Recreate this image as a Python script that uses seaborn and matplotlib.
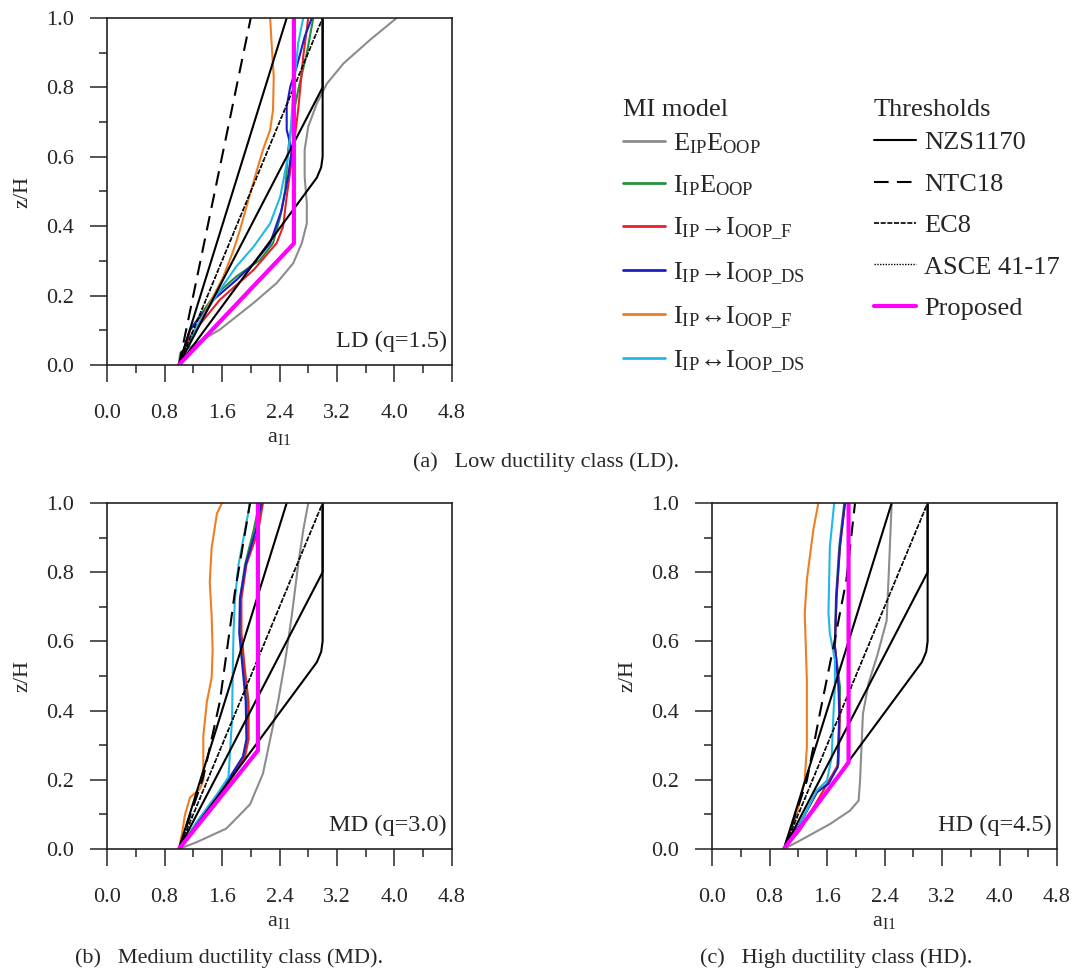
import matplotlib
matplotlib.use("Agg")
import matplotlib.pyplot as plt
from matplotlib.lines import Line2D
import seaborn as sns
import numpy as np

# ---- LD (q=1.5) ----
ld_grey_a = [1.0, 1.016, 1.57, 2.04, 2.36, 2.59, 2.71, 2.78, 2.78, 2.75, 2.75, 2.80, 2.92, 3.06, 3.29, 3.66, 4.03]
ld_grey_z = [0, 0.034, 0.102, 0.179, 0.236, 0.293, 0.351, 0.408, 0.466, 0.543, 0.620, 0.687, 0.754, 0.811, 0.869, 0.937, 1.0]
ld_green_a = [1.0, 1.155, 1.48, 1.80, 2.13, 2.31, 2.41, 2.48, 2.52, 2.57, 2.66, 2.78, 2.87]
ld_green_z = [0, 0.101, 0.197, 0.255, 0.303, 0.351, 0.428, 0.504, 0.620, 0.696, 0.793, 0.898, 1.0]
ld_red_a = [1.0, 1.155, 1.57, 2.04, 2.36, 2.45, 2.50, 2.59, 2.66, 2.73, 2.80]
ld_red_z = [0, 0.082, 0.188, 0.274, 0.351, 0.399, 0.485, 0.620, 0.735, 0.889, 1.0]
ld_blue_a = [1.0, 1.155, 1.48, 1.80, 2.04, 2.27, 2.43, 2.52, 2.57, 2.50, 2.50, 2.55, 2.64, 2.75, 2.85]
ld_blue_z = [0, 0.101, 0.188, 0.245, 0.293, 0.351, 0.447, 0.543, 0.620, 0.678, 0.745, 0.802, 0.860, 0.946, 1.0]
ld_orange_a = [1.0, 1.20, 1.43, 1.62, 1.76, 1.85, 1.94, 2.06, 2.17, 2.27, 2.31, 2.32, 2.29, 2.27]
ld_orange_z = [0, 0.091, 0.178, 0.255, 0.331, 0.389, 0.456, 0.543, 0.620, 0.678, 0.735, 0.831, 0.927, 1.0]
ld_cyan_a = [1.0, 1.25, 1.57, 1.80, 2.04, 2.27, 2.41, 2.50, 2.55, 2.59, 2.66, 2.73]
ld_cyan_z = [0, 0.111, 0.216, 0.284, 0.341, 0.408, 0.485, 0.581, 0.658, 0.783, 0.927, 1.0]
ld_prop_a = [1.0, 2.6, 2.6]
ld_prop_z = [0, 0.35, 1.0]
ld_ntc_a = [1.0, 2.0]
ld_ntc_z = [0, 1.0]

# ---- MD (q=3.0) ----
md_grey_a = [1.0, 1.25, 1.66, 1.99, 2.17, 2.27, 2.38, 2.48, 2.57, 2.66, 2.73, 2.80]
md_grey_z = [0, 0.02, 0.059, 0.129, 0.218, 0.317, 0.426, 0.545, 0.673, 0.822, 0.921, 1.0]
md_mid_z = [0, 0.089, 0.198, 0.267, 0.317, 0.426, 0.515, 0.624, 0.723, 0.822, 0.921, 1.0]
md_red_a = [1.0, 1.34, 1.71, 1.92, 1.97, 1.97, 1.92, 1.87, 1.87, 1.94, 2.105, 2.17]
md_green_a = [1.0, 1.34, 1.69, 1.90, 1.95, 1.95, 1.91, 1.85, 1.85, 1.92, 2.04, 2.12]
md_blue_a = [1.0, 1.33, 1.68, 1.89, 1.94, 1.93, 1.89, 1.84, 1.85, 1.93, 2.07, 2.15]
md_cyan_a = [1.0, 1.25, 1.53, 1.69, 1.74, 1.75, 1.76, 1.78, 1.83, 1.92, 1.99]
md_cyan_z = [0, 0.079, 0.158, 0.208, 0.376, 0.515, 0.624, 0.723, 0.822, 0.921, 1.0]
md_orange_a = [1.0, 1.04, 1.085, 1.155, 1.29, 1.34, 1.34, 1.39, 1.456, 1.47, 1.456, 1.43, 1.456, 1.53, 1.60]
md_orange_z = [0, 0.040, 0.099, 0.149, 0.173, 0.198, 0.327, 0.426, 0.495, 0.574, 0.673, 0.772, 0.871, 0.970, 1.0]
md_prop_a = [1.0, 2.1, 2.1]
md_prop_z = [0, 0.285, 1.0]
md_ntc_a = [1.0, 1.34, 1.57, 1.78, 1.99]
md_ntc_z = [0, 0.208, 0.426, 0.743, 1.0]

# ---- HD (q=4.5) ----
hd_grey_a = [1.0, 1.22, 1.64, 1.92, 2.04, 2.06, 2.08, 2.10, 2.18, 2.30, 2.43, 2.46, 2.50]
hd_grey_z = [0, 0.024, 0.072, 0.111, 0.140, 0.198, 0.295, 0.391, 0.48, 0.56, 0.66, 0.80, 1.0]
hd_red_a = [1.0, 1.22, 1.55, 1.76, 1.78, 1.76, 1.71, 1.735, 1.78, 1.85]
hd_red_z = [0, 0.053, 0.169, 0.246, 0.391, 0.488, 0.585, 0.729, 0.874, 1.0]
hd_mid_z = [0, 0.072, 0.164, 0.188, 0.237, 0.391, 0.469, 0.585, 0.729, 0.874, 1.0]
hd_green_a = [1.0, 1.22, 1.456, 1.60, 1.745, 1.78, 1.78, 1.71, 1.725, 1.77, 1.84]
hd_blue_a = [1.0, 1.22, 1.46, 1.62, 1.75, 1.77, 1.76, 1.71, 1.73, 1.78, 1.85]
hd_cyan_a = [1.0, 1.178, 1.456, 1.60, 1.665, 1.69, 1.71, 1.71, 1.64, 1.62, 1.64, 1.70]
hd_cyan_z = [0, 0.053, 0.169, 0.198, 0.266, 0.391, 0.469, 0.546, 0.623, 0.681, 0.874, 1.0]
hd_orange_a = [1.0, 1.178, 1.29, 1.32, 1.32, 1.29, 1.32, 1.41, 1.48]
hd_orange_z = [0, 0.101, 0.198, 0.295, 0.488, 0.681, 0.778, 0.923, 1.0]
hd_prop_a = [1.0, 1.9, 1.9]
hd_prop_z = [0, 0.25, 1.0]
hd_ntc_a = [1.0, 1.32, 1.50, 1.69, 1.87, 1.99]
hd_ntc_z = [0, 0.198, 0.391, 0.585, 0.778, 1.0]

# ---- thresholds shared by all panels ----
nzs1_a, nzs1_z = [1.0, 2.5], [0, 1.0]
nzs2_a, nzs2_z = [1.0, 3.0, 3.0], [0, 0.8, 1.0]
nzs3_a, nzs3_z = [1.0, 2.92, 2.98, 3.0, 3.0], [0, 0.54, 0.57, 0.6, 1.0]
ec8_a, ec8_z = [1.0, 3.0], [0, 1.0]
asce_a, asce_z = [1.0, 3.0], [0, 1.0]

mi_labels = [r'E$_{\rm IP}$E$_{\rm OOP}$', r'I$_{\rm IP}$E$_{\rm OOP}$',
             r'I$_{\rm IP}$→I$_{\rm OOP\_F}$', r'I$_{\rm IP}$→I$_{\rm OOP\_DS}$',
             r'I$_{\rm IP}$↔I$_{\rm OOP\_F}$', r'I$_{\rm IP}$↔I$_{\rm OOP\_DS}$']
thr_labels = ['NZS1170', 'NTC18', 'EC8', 'ASCE 41-17', 'Proposed']

C_GREY = '#8c8c8c'
C_GREEN = '#23903c'
C_RED = '#e8202a'
C_BLUE = '#1c1cc8'
C_ORANGE = '#f07d22'
C_CYAN = '#22b7e8'
C_MAG = '#ff00ff'
mi_colors = [C_GREY, C_GREEN, C_RED, C_BLUE, C_ORANGE, C_CYAN]

sns.set_style("ticks")
plt.rcParams['font.family'] = ['Liberation Serif', 'DejaVu Serif']
plt.rcParams['mathtext.fontset'] = 'custom'
plt.rcParams['mathtext.rm'] = 'Liberation Serif'
plt.rcParams['mathtext.it'] = 'Liberation Serif:italic'
plt.rcParams['axes.edgecolor'] = '#222222'
plt.rcParams['axes.linewidth'] = 1.2

W, H = 1075, 973
fig = plt.figure(figsize=(W / 100, H / 100), dpi=100)


def box(x0, y0, x1, y1):
    return [x0 / W, 1 - y1 / H, (x1 - x0) / W, (y1 - y0) / H]


def line(ax, a, z, color, lw=1.5, dashes=None):
    sns.lineplot(x=a, y=z, ax=ax, sort=False, estimator=None, color=color, lw=lw)
    if dashes is not None:
        ax.lines[-1].set_dashes(dashes)


def panel(ax, series, prop, ntc, tag):
    for (a, z), c in zip(series, mi_colors):
        line(ax, a, z, c)
    line(ax, nzs1_a, nzs1_z, 'black')
    line(ax, nzs2_a, nzs2_z, 'black')
    line(ax, nzs3_a, nzs3_z, 'black')
    line(ax, ntc[0], ntc[1], 'black', dashes=(7, 4))
    line(ax, ec8_a, ec8_z, 'black', lw=1.2, dashes=(2, 2))
    line(ax, asce_a, asce_z, 'black', lw=1.2, dashes=(1, 1))
    line(ax, prop[0], prop[1], C_MAG, lw=3)

    ax.set_xlim(0, 4.8)
    ax.set_ylim(0, 1)
    ax.set_xticks(np.arange(0, 4.81, 0.8))
    ax.set_xticks(np.arange(0, 4.81, 0.4), minor=True)
    ax.set_yticks(np.arange(0, 1.01, 0.2))
    ax.set_yticks(np.arange(0, 1.01, 0.1), minor=True)
    ax.xaxis.set_major_formatter('{x:.1f}')
    ax.yaxis.set_major_formatter('{x:.1f}')
    ax.tick_params(which='major', direction='out', length=12, width=1.1, labelsize=16)
    ax.tick_params(which='minor', direction='out', length=6, width=1.1)
    ax.tick_params(axis='x', which='major', pad=16)
    ax.tick_params(axis='y', which='major', pad=12)
    for s in ax.spines.values():
        s.set_visible(True)
    ax.set_xlabel(r'a$_{\rm I1}$', fontsize=16, labelpad=4)
    ax.set_ylabel('z/H', fontsize=16, labelpad=10)
    ax.text(0.985, 0.067, tag, transform=ax.transAxes, ha='right', va='center', fontsize=17.5)


ax_a = fig.add_axes(box(107, 18, 452, 365))
panel(ax_a,
      [(ld_grey_a, ld_grey_z), (ld_green_a, ld_green_z), (ld_red_a, ld_red_z),
       (ld_blue_a, ld_blue_z), (ld_orange_a, ld_orange_z), (ld_cyan_a, ld_cyan_z)],
      (ld_prop_a, ld_prop_z), (ld_ntc_a, ld_ntc_z), 'LD (q=1.5)')

ax_b = fig.add_axes(box(107, 503, 452, 849))
panel(ax_b,
      [(md_grey_a, md_grey_z), (md_green_a, md_mid_z), (md_red_a, md_mid_z),
       (md_blue_a, md_mid_z), (md_orange_a, md_orange_z), (md_cyan_a, md_cyan_z)],
      (md_prop_a, md_prop_z), (md_ntc_a, md_ntc_z), 'MD (q=3.0)')

ax_c = fig.add_axes(box(712, 503, 1057, 849))
panel(ax_c,
      [(hd_grey_a, hd_grey_z), (hd_green_a, hd_mid_z), (hd_red_a, hd_red_z),
       (hd_blue_a, hd_mid_z), (hd_orange_a, hd_orange_z), (hd_cyan_a, hd_cyan_z)],
      (hd_prop_a, hd_prop_z), (hd_ntc_a, hd_ntc_z), 'HD (q=4.5)')

# legends (titles placed as separate text to match the tighter gap)
mi_handles = [Line2D([], [], color=c, lw=2) for c in mi_colors]
thr_handles = [Line2D([], [], color='black', lw=1.5),
               Line2D([], [], color='black', lw=1.5, dashes=(7, 4)),
               Line2D([], [], color='black', lw=1.2, dashes=(3, 1)),
               Line2D([], [], color='black', lw=1.0, dashes=(1, 1)),
               Line2D([], [], color=C_MAG, lw=3)]
leg_kw = dict(loc='upper left', frameon=False, fontsize=19,
              handlelength=1.6, handletextpad=0.3, labelspacing=0.68, borderpad=0, borderaxespad=0)
fig.legend(mi_handles, mi_labels, bbox_to_anchor=(623 / W, 1 - 131 / H), **leg_kw)
fig.legend(thr_handles, thr_labels, bbox_to_anchor=(874 / W, 1 - 131 / H), **leg_kw)
fig.text(623 / W, 1 - 110 / H, 'MI model', fontsize=19, ha='left', va='center')
fig.text(874 / W, 1 - 110 / H, 'Thresholds', fontsize=19, ha='left', va='center')

# captions
fig.text(413 / W, 1 - 462 / H, '(a)   Low ductility class (LD).', fontsize=16, ha='left', va='center')
fig.text(75 / W, 1 - 958 / H, '(b)   Medium ductility class (MD).', fontsize=16, ha='left', va='center')
fig.text(700 / W, 1 - 958 / H, '(c)   High ductility class (HD).', fontsize=16, ha='left', va='center')

fig.savefig('out.png', dpi=100)
